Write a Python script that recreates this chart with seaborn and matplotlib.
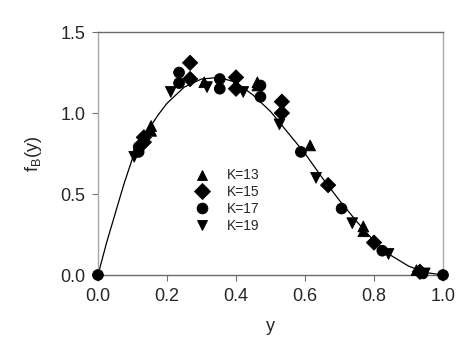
import numpy as np
import pandas as pd
import seaborn as sns
import matplotlib.pyplot as plt

sns.set_style('white')
plt.rcParams['font.family'] = ['Liberation Sans', 'DejaVu Sans']
plt.rcParams['mathtext.fontset'] = 'custom'
plt.rcParams['mathtext.rm'] = 'Liberation Sans'

# data
k13_x = [0.154, 0.154, 0.308, 0.462, 0.462, 0.615, 0.769, 0.769, 0.923]
k13_f = [0.92, 0.89, 1.19, 1.19, 1.17, 0.80, 0.30, 0.27, 0.03]
k15_x = [0.133, 0.133, 0.267, 0.267, 0.400, 0.400, 0.533, 0.533, 0.667, 0.800, 0.933]
k15_f = [0.85, 0.82, 1.31, 1.21, 1.22, 1.15, 1.07, 1.00, 0.555, 0.20, 0.02]
k17_x = [0.0, 0.118, 0.118, 0.235, 0.235, 0.353, 0.353, 0.471, 0.471, 0.588, 0.706, 0.824, 0.941, 1.0]
k17_f = [0.0, 0.79, 0.76, 1.25, 1.185, 1.21, 1.15, 1.17, 1.10, 0.76, 0.41, 0.15, 0.01, 0.0]
k19_x = [0.105, 0.211, 0.316, 0.421, 0.526, 0.632, 0.737, 0.842, 0.947]
k19_f = [0.73, 1.13, 1.16, 1.13, 0.93, 0.60, 0.32, 0.13, 0.01]

curve_x = [0.0, 0.025, 0.05, 0.075, 0.1, 0.125, 0.15, 0.175, 0.2, 0.25, 0.3, 0.35, 0.4, 0.45,
           0.5, 0.55, 0.6, 0.65, 0.7, 0.75, 0.8, 0.85, 0.9, 0.95, 1.0]
curve_f = [0.0, 0.20, 0.38, 0.56, 0.72, 0.83, 0.91, 0.99, 1.06, 1.16, 1.21, 1.22, 1.19, 1.11,
           1.01, 0.88, 0.75, 0.60, 0.46, 0.33, 0.21, 0.12, 0.055, 0.015, 0.0]

labels = ['K=13', 'K=15', 'K=17', 'K=19']
groups = [(k13_x, k13_f), (k15_x, k15_f), (k17_x, k17_f), (k19_x, k19_f)]
pts = pd.concat([pd.DataFrame({'y': gx, 'f': gf, 'K': lab})
                 for lab, (gx, gf) in zip(labels, groups)], ignore_index=True)
curve = pd.DataFrame({'y': curve_x, 'f': curve_f})

fig = plt.figure(figsize=(4.71, 3.56), dpi=100)
ax = fig.add_axes([0.208, 0.2275, 0.7326, 0.6825])

sns.lineplot(data=curve, x='y', y='f', color='black', lw=0.9, ax=ax)
sns.scatterplot(data=pts, x='y', y='f', style='K', style_order=labels,
                markers={'K=13': '^', 'K=15': 'D', 'K=17': 'o', 'K=19': 'v'},
                color='black', edgecolor='black', s=60, clip_on=False, ax=ax, zorder=3)

h, l = ax.get_legend_handles_labels()
leg = ax.legend(h, l, frameon=False, loc='upper left', bbox_to_anchor=(0.225, 0.49),
                fontsize=10, labelspacing=0.2, handletextpad=0.8, markerscale=1.0)

ax.set_xlim(0, 1)
ax.set_ylim(0, 1.5)
ax.set_xticks([0.0, 0.2, 0.4, 0.6, 0.8, 1.0])
ax.set_yticks([0.0, 0.5, 1.0, 1.5])
ax.set_xticklabels(['0.0', '0.2', '0.4', '0.6', '0.8', '1.0'])
ax.set_yticklabels(['0.0', '0.5', '1.0', '1.5'])
ax.tick_params(direction='out', length=4, width=0.8, color='#707070', labelsize=13, pad=5,
               bottom=True, left=True)
ax.set_xlabel('y', fontsize=13, labelpad=10)
ax.set_ylabel(r'f$_\mathregular{B}$(y)', fontsize=13, labelpad=12)

for side in ['left', 'right']:
    ax.spines[side].set_color('#a8a8a8')
for side in ['top', 'bottom']:
    ax.spines[side].set_color('#6a6a6a')
for sp in ax.spines.values():
    sp.set_linewidth(1.0)

fig.savefig('out.png', dpi=100)
